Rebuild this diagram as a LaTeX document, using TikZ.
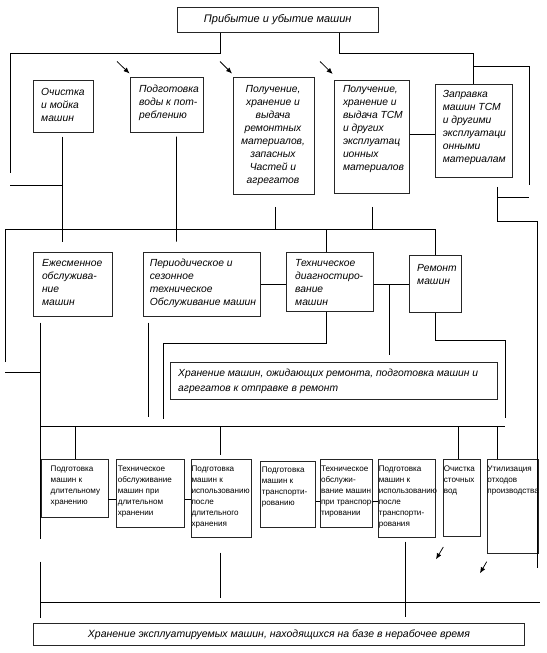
\documentclass[tikz,border=0pt]{standalone}
\usepackage{fontspec}
\setmainfont{Liberation Sans}
\usetikzlibrary{arrows.meta}
\newcommand\boxat[5]{\node[bx,anchor=north west,minimum width={#4pt-#2pt},minimum height={#5pt-#3pt}] (#1) at (#2,#3) {};}
\begin{document}
\begin{tikzpicture}[x=1pt,y=-1pt,
  bx/.style={draw=black!85,line width=0.9pt,inner sep=0pt,fill=white},
  ln/.style={draw=black,line width=0.75pt},
  arr/.style={draw=black,line width=0.75pt,-{Latex[length=6pt,width=5pt]}},
  ti/.style={font=\fontsize{10.3}{13}\selectfont\itshape,align=left,inner sep=0pt,anchor=north west},
  tc/.style={font=\fontsize{10.3}{13}\selectfont\itshape,align=center,inner sep=0pt,anchor=north},
  tb/.style={font=\fontsize{8.1}{11}\selectfont,align=left,inner sep=0pt,anchor=north west}]
\useasboundingbox[fill=white] (0,0) rectangle (546,653);

% ---------- boxes ----------
\boxat{top}{177}{6.7}{377.5}{31.7}
\boxat{A}{33}{80}{93.3}{131.7}
\boxat{B}{129.8}{77.3}{202.9}{131.7}
\boxat{C}{232.5}{77.3}{314}{194.3}
\boxat{D}{334}{80}{409}{193.3}
\boxat{E}{435}{83.5}{512}{177}
\boxat{F}{33}{251.7}{112}{316}
\boxat{G}{142.7}{251.7}{260}{316}
\boxat{H}{286}{251.7}{373}{310.7}
\boxat{R}{409}{255}{461}{311.7}
\boxat{S}{170}{361.7}{497}{399.3}
\boxat{b1}{41}{459.3}{107.5}{517.3}
\boxat{b2}{116.3}{459.3}{184}{527.3}
\boxat{b3}{190.7}{459.3}{251}{536.7}
\boxat{b4}{260.3}{460.7}{315}{526.7}
\boxat{b5}{319.5}{459.3}{372.4}{526.7}
\boxat{b6}{377.6}{459.3}{435}{536.7}
\boxat{b7}{442.7}{459.3}{479.5}{536}
\boxat{b8}{486.5}{459.3}{537.5}{552.7}
\boxat{bot}{33}{623.3}{524}{645}

% ---------- texts ----------
\node[font=\fontsize{11}{13}\selectfont\itshape,inner sep=0pt] (ttop) at (top.center) {Прибытие и убытие машин};
\node[ti] (tA) at (41,88.2) {Очистка\\и мойка\\машин};
\node[ti] (tB) at (139,84.8) {Подготовка\\воды к пот-\\реблению};
\node[tc] (tC) at (273,84.8) {Получение,\\хранение и\\выдача\\ремонтных\\материалов,\\запасных\\Частей и\\агрегатов};
\node[ti] (tD) at (342.8,84.8) {Получение,\\хранение и\\выдача ТСМ\\и других\\эксплуатац\\ионных\\материалов};
\node[ti] (tE) at (442.7,90.5) {Заправка\\машин ТСМ\\и другими\\эксплуатаци\\онными\\материалам};
\node[ti] (tF) at (41.8,258.8) {Ежесменное\\обслужива-\\ние\\машин};
\node[ti] (tG) at (149.6,258.8) {Периодическое и\\сезонное\\техническое\\Обслуживание машин};
\node[ti] (tH) at (295,258.8) {Техническое\\диагностиро-\\вание\\машин};
\node[ti] (tR) at (417,263.8) {Ремонт\\машин};
\node[ti,font=\fontsize{10.3}{15}\selectfont\itshape] (tS) at (178,368.8) {Хранение машин, ожидающих ремонта, подготовка машин и\\агрегатов к отправке в ремонт};
\node[tb] (t1) at (50.5,465.8) {Подготовка\\машин к\\длительному\\хранению};
\node[tb] (t2) at (117.6,465.8) {Техническое\\обслуживание\\машин при\\длительном\\хранении};
\node[tb] (t3) at (191.4,465.8) {Подготовка\\машин к\\использованию\\после\\длительного\\хранения};
\node[tb] (t4) at (261.7,467.2) {Подготовка\\машин к\\транспорти-\\рованию};
\node[tb] (t5) at (320.9,465.8) {Техническое\\обслужи-\\вание машин\\при транспор-\\тировании};
\node[tb] (t6) at (378.6,465.8) {Подготовка\\машин к\\использованию\\после\\транспорти-\\рования};
\node[tb] (t7) at (443.7,465.8) {Очистка\\сточных\\вод};
\node[tb] (t8) at (487.2,465.8) {Утилизация\\отходов\\производства};
\node[font=\fontsize{10.5}{13}\selectfont\itshape,inner sep=0pt] (tbot) at (bot.center) {Хранение эксплуатируемых машин, находящихся на базе в нерабочее время};

% ---------- free ends ----------
\coordinate (e1) at (10.4,172.7);
\coordinate (e2) at (529,185);
\coordinate (e3) at (537.5,568);
\coordinate (e4) at (529,197.7);
\coordinate (e5) at (62.6,185);
\coordinate (e6) at (389,355);
\coordinate (e7) at (5.2,362);
\coordinate (e8) at (40,539.3);
\coordinate (e9) at (40,561.7);
\coordinate (e10) at (40,618.3);
\coordinate (e11) at (148,417);
\coordinate (e12) at (163.5,419);
\coordinate (e13) at (505,418);
\coordinate (e14) at (40,372);
\coordinate (e15) at (220,455);
\coordinate (e16) at (220,552.7);
\coordinate (e17) at (220,598.3);
\coordinate (e18) at (405.4,541.7);
\coordinate (e19) at (405.4,616.7);
\coordinate (e20) at (540,602.7);
\coordinate (e21) at (505,426.7);

% ---------- connectors ----------
\draw[ln] ([xshift=43.5pt]top.south west) -- (220.5,53) -- (10.4,53) -- (e1);
\draw[ln] ([xshift=162pt]top.south west) -- (339,53) -- (473,53) -- ([xshift=38pt]E.north west);
\draw[ln] (473,66.7) -- (529,66.7) -- (e2);
\draw[ln] ([shift={(62,9)}]E.south west) -- (497,221.7) -- (537.5,221.7) -- (e3);
\draw[ln] (497,197.7) -- (e4);
\draw[ln] (D.east |- 0,134.3) -- (E.west |- 0,134.3);
\draw[ln] (10.4,185) -- (e5);
\draw[ln] ([shift={(29.6,4)}]A.south west) -- (62.6,241.7);
\draw[ln] ([shift={(46.6,4)}]B.south west) -- (176.4,241.7);
\draw[ln] ([shift={(42.5,11.7)}]C.south west) -- (275,229);
\draw[ln] ([shift={(38.4,12.7)}]D.south west) -- (372.4,229);
\draw[ln] (e7) -- (5.2,229) -- (435,229) -- ([xshift=26pt]R.north west);
\draw[ln] (326,229) -- ([xshift=40pt]H.north west);
\draw[ln] (G.east |- 0,284) -- (H.west |- 0,284);
\draw[ln] (H.east |- 0,284) -- (R.west |- 0,284);
\draw[ln] (389,284) -- (e6);
\draw[ln] ([shift={(7,5.7)}]F.south west) -- (e8);
\draw[ln] (e9) -- (e10);
\draw[ln] ([shift={(5.3,5.7)}]G.south west) -- (e11);
\draw[ln] ([xshift=40pt]H.south west) -- (326,343.3) -- (163.5,343.3) -- (e12);
\draw[ln] ([xshift=26pt]R.south west) -- (435,340) -- (505,340) -- (e13);
\draw[ln] (5.2,372) -- (e14);
\draw[ln] (40,426.7) -- (e21);
\draw[ln] (75,426.7) -- ([xshift=34pt]b1.north west);
\draw[ln] (220,426.7) -- (e15);
\draw[ln] (458,426.7) -- ([xshift=15.3pt]b7.north west);
\draw[ln] (497,426.7) -- ([xshift=10.5pt]b8.north west);
\draw[ln] (b1.east |- 0,499) -- (b2.west |- 0,499);
\draw[ln] (b2.east |- 0,499) -- (b3.west |- 0,499);
\draw[ln] (b4.east |- 0,501.7) -- (b5.west |- 0,501.7);
\draw[ln] (b5.east |- 0,501.7) -- (b6.west |- 0,501.7);
\draw[ln] (e16) -- (e17);
\draw[ln] (e18) -- (e19);
\draw[ln] (40,602.7) -- (e20);

% ---------- arrows ----------
\coordinate (a1s) at (117,61.5); \coordinate (a1e) at (129.5,73.5);
\coordinate (a2s) at (220,61.5); \coordinate (a2e) at (232,73.5);
\coordinate (a3s) at (320,61.5); \coordinate (a3e) at (332.7,74);
\coordinate (a4s) at (443.3,547); \coordinate (a4e) at (436,559.3);
\coordinate (a5s) at (486.7,561.7); \coordinate (a5e) at (480,573.3);
\draw[arr] (a1s) -- (a1e);
\draw[arr] (a2s) -- (a2e);
\draw[arr] (a3s) -- (a3e);
\draw[arr] (a4s) -- (a4e);
\draw[arr] (a5s) -- (a5e);
\end{tikzpicture}
\end{document}
